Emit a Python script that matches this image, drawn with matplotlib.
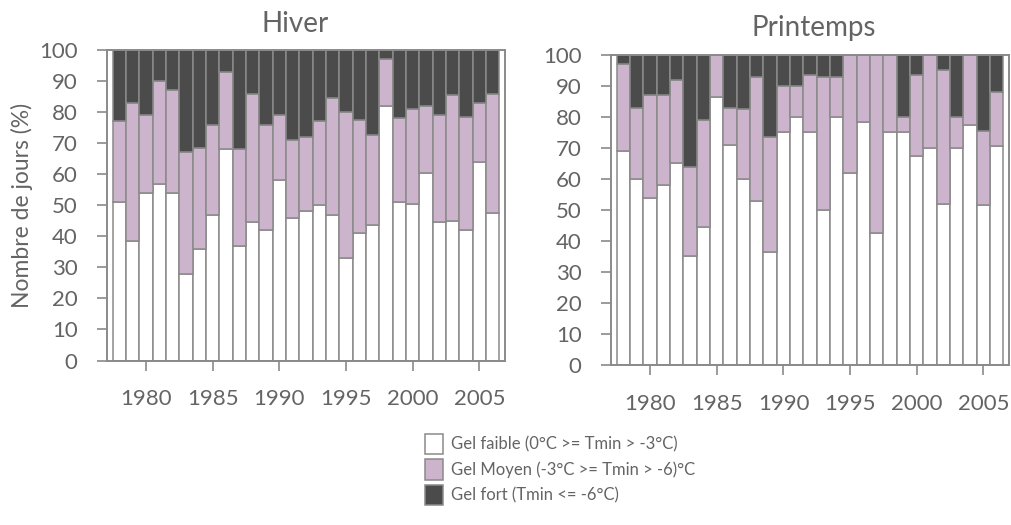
import numpy as np
import matplotlib
matplotlib.use('Agg')
import matplotlib.pyplot as plt
from matplotlib.patches import Patch

plt.rcParams['font.family'] = ['Lato', 'DejaVu Sans']

# Data: share of frost days (%) per class, winter and spring
years = list(range(1978, 2007))

hiver_faible = [51, 38.5, 54, 57, 54, 28, 36, 47, 68, 37, 44.5, 42, 58, 46, 48,
                50, 47, 33, 41, 43.5, 82, 51, 50.5, 60.5, 44.5, 45, 42, 64, 47.5]
hiver_moyen = [26, 44.5, 25, 33, 33, 39, 32.5, 29, 25, 31, 41.5, 34, 21, 25, 24,
               27, 37.5, 47, 36.5, 29, 15, 27, 30.5, 21.5, 34.5, 40.5, 36.5, 19, 38.5]

printemps_faible = [69, 60, 54, 58, 65, 35, 44.5, 86.5, 71, 60, 53, 36.5, 75, 80, 75,
                    50, 80, 62, 78.5, 42.5, 75, 75, 67.5, 70, 52, 70, 77.5, 51.5, 70.5]
printemps_moyen = [28, 23, 33, 29, 27, 29, 34.5, 13.5, 12, 22.5, 40, 37, 15, 10, 18.5,
                   43, 13, 38, 21.5, 57.5, 25, 5, 26, 30, 43, 10, 22.5, 24, 17.5]

labels = ['Gel faible (0°C >= Tmin > -3°C)',
          'Gel Moyen (-3°C >= Tmin > -6)°C',
          'Gel fort (Tmin <= -6°C)']

c_faible = 'white'
c_moyen = '#cdb4cd'
c_fort = '#4b4b4b'
edge = '#8a8a8a'
txt = '#646464'


def draw_panel(ax, faible, moyen):
    faible = np.array(faible)
    moyen = np.array(moyen)
    fort = 100 - faible - moyen
    ax.bar(years, faible, width=1, color=c_faible, edgecolor=edge, linewidth=1.1)
    ax.bar(years, moyen, width=1, bottom=faible, color=c_moyen, edgecolor=edge, linewidth=1.1)
    ax.bar(years, fort, width=1, bottom=faible + moyen, color=c_fort, edgecolor=edge, linewidth=1.1)
    ax.set_xlim(1977.07, 2006.92)
    ax.set_ylim(0, 100)
    ax.set_yticks(range(0, 101, 10))
    ax.set_xticks(range(1980, 2006, 5))
    for s in ax.spines.values():
        s.set_color(edge)
        s.set_linewidth(1.4)
    ax.tick_params(axis='y', direction='out', length=7.2, width=1.2, color=edge,
                   labelsize=16, labelcolor=txt, pad=14)
    ax.tick_params(axis='x', direction='out', length=7.2, width=1.2, color=edge,
                   labelsize=16, labelcolor=txt, pad=13.5)


fig = plt.figure(figsize=(10.12, 5.25), dpi=100)
ax1 = fig.add_axes([0.1057, 0.3133, 0.3933, 0.5914])
ax2 = fig.add_axes([0.6038, 0.3048, 0.3933, 0.5905])

draw_panel(ax1, hiver_faible, hiver_moyen)
draw_panel(ax2, printemps_faible, printemps_moyen)

fig.text(295 / 1012, 1 - 32 / 525, 'Hiver', fontsize=20, color=txt, ha='center', va='baseline')
fig.text(814 / 1012, 1 - 36 / 525, 'Printemps', fontsize=20, color=txt, ha='center', va='baseline')
fig.text(22 / 1012, 1 - 205 / 525, 'Nombre de jours (%)', fontsize=16.5, color=txt,
         rotation=90, ha='center', va='center')

handles = [Patch(facecolor=c_faible, edgecolor=edge, linewidth=1.1),
           Patch(facecolor=c_moyen, edgecolor=edge, linewidth=1.1),
           Patch(facecolor=c_fort, edgecolor=edge, linewidth=1.1)]
fig.legend(handles, labels, loc='upper left', bbox_to_anchor=(425 / 1012, 1 - 434 / 525),
           frameon=False, fontsize=12, labelcolor=txt, borderpad=0, borderaxespad=0,
           handlelength=1.1, handleheight=1.5, handletextpad=0.45, labelspacing=0.3)

fig.savefig('out.png', dpi=100)
